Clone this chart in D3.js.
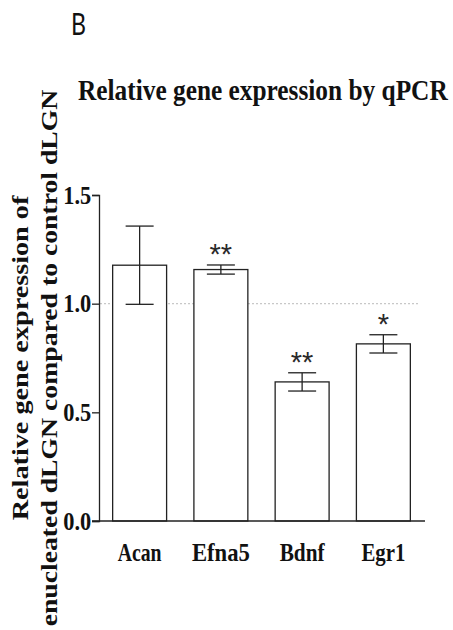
<!DOCTYPE html>
<html>
<head>
<meta charset="utf-8">
<script src="https://cdn.jsdelivr.net/npm/d3@7"></script>
<style>
  html, body { margin: 0; padding: 0; background: #fff; }
  .serif { font-family: "Liberation Serif", "Times New Roman", serif; font-weight: bold; fill: #111; }
</style>
</head>
<body>
<div id="chart"></div>
<script>
// values
const genes = ['Acan', 'Efna5', 'Bdnf', 'Egr1'];
const means = [1.177, 1.157, 0.640, 0.815];
const sems = [0.180, 0.021, 0.042, 0.042];
const stars = ['', '**', '**', '*'];
const yTicks = [0.0, 0.5, 1.0, 1.5];

const width = 453, height = 630;

const svg = d3.select('#chart')
    .append('svg')
    .attr('width', width)
    .attr('height', height);

svg.append('rect').attr('width', width).attr('height', height).attr('fill', '#fff');

// the figure is squeezed sideways, so squeeze the glyphs to a measured length
const squeeze = (sel, len, base) => {
    sel.each(function (d, i) {
        const w = this.getComputedTextLength();
        const l = typeof len === 'function' ? len(d, i) : len;
        const b = typeof base === 'function' ? base(d, i) : base;
        d3.select(this).attr('transform', `${b} scale(${l / w},1)`);
    });
};

const x = d3.scaleBand()
    .domain(genes)
    .range([99, 424])
    .paddingInner(0.336)
    .paddingOuter(0.168);

const y = d3.scaleLinear()
    .domain([0, 1.5])
    .range([521, 195]);

// panel letter
svg.append('text')
    .attr('font-family', 'Lato, "Open Sans", sans-serif')
    .attr('font-size', 30)
    .attr('fill', '#111')
    .text('B')
    .call(squeeze, 15, 'translate(71,35)');

// title
svg.append('text')
    .attr('class', 'serif')
    .attr('font-size', 29)
    .text('Relative gene expression by qPCR')
    .call(squeeze, 370, 'translate(78,100)');

// y label, two lines
const yLabel = [
    {text: 'Relative gene expression of', x: 28, len: 325},
    {text: 'enucleated dLGN compared to control dLGN', x: 57, len: 537}
];
svg.selectAll('text.ylab')
    .data(yLabel)
    .enter()
    .append('text')
    .attr('class', 'serif ylab')
    .attr('text-anchor', 'middle')
    .attr('font-size', 24)
    .text(d => d.text)
    .call(squeeze, d => d.len, d => `translate(${d.x},358) rotate(-90)`);

// reference line at 1.0
svg.append('line')
    .attr('x1', 100).attr('x2', 418)
    .attr('y1', y(1)).attr('y2', y(1))
    .attr('stroke', '#c8c8c8')
    .attr('stroke-width', 1.2)
    .attr('stroke-dasharray', '2,2');

// bars
svg.selectAll('rect.bar')
    .data(genes)
    .enter()
    .append('rect')
    .attr('class', 'bar')
    .attr('x', d => x(d))
    .attr('width', x.bandwidth())
    .attr('y', (d, i) => y(means[i]))
    .attr('height', (d, i) => y(0) - y(means[i]))
    .attr('fill', '#fff')
    .attr('stroke', '#222')
    .attr('stroke-width', 1.3);

// error bars
const capW = 28;
const err = svg.selectAll('g.err')
    .data(genes)
    .enter()
    .append('g')
    .attr('class', 'err')
    .attr('stroke', '#222')
    .attr('stroke-width', 1.3);

err.append('line')
    .attr('x1', d => x(d) + x.bandwidth() / 2)
    .attr('x2', d => x(d) + x.bandwidth() / 2)
    .attr('y1', (d, i) => y(means[i] + sems[i]))
    .attr('y2', (d, i) => y(means[i] - sems[i]));
err.append('line')
    .attr('x1', d => x(d) + x.bandwidth() / 2 - capW / 2)
    .attr('x2', d => x(d) + x.bandwidth() / 2 + capW / 2)
    .attr('y1', (d, i) => y(means[i] + sems[i]))
    .attr('y2', (d, i) => y(means[i] + sems[i]));
err.append('line')
    .attr('x1', d => x(d) + x.bandwidth() / 2 - capW / 2)
    .attr('x2', d => x(d) + x.bandwidth() / 2 + capW / 2)
    .attr('y1', (d, i) => y(means[i] - sems[i]))
    .attr('y2', (d, i) => y(means[i] - sems[i]));

// significance stars
svg.selectAll('text.star')
    .data(genes)
    .enter()
    .append('text')
    .attr('class', 'star')
    .attr('x', d => x(d) + x.bandwidth() / 2)
    .attr('y', (d, i) => y(means[i] + sems[i]) - 1)
    .attr('text-anchor', 'middle')
    .attr('font-family', '"Liberation Sans", Arial, sans-serif')
    .attr('font-size', 29)
    .attr('fill', '#2a2a2a')
    .text((d, i) => stars[i]);

// axes
const yAxis = svg.append('g')
    .attr('transform', 'translate(99,0)')
    .call(d3.axisLeft(y).tickValues(yTicks).tickFormat(d3.format('.1f')).tickSize(7).tickPadding(2));

const xAxis = svg.append('g')
    .attr('transform', `translate(0,${y(0)})`)
    .call(d3.axisBottom(x).tickSize(0).tickPadding(22));

xAxis.select('.domain').attr('d', 'M92,0H425');

[yAxis, xAxis].forEach(g => {
    g.selectAll('path, line').attr('stroke', '#222').attr('stroke-width', 1.3);
    g.selectAll('text')
        .attr('class', 'serif')
        .attr('font-size', 26)
        .attr('fill', '#111');
});
yAxis.selectAll('text')
    .call(squeeze, 28, '');
xAxis.selectAll('text')
    .attr('dy', '0.71em')
    .call(squeeze, d => ({Acan: 44, Efna5: 58, Bdnf: 45, Egr1: 44})[d], '');
</script>
</body>
</html>
